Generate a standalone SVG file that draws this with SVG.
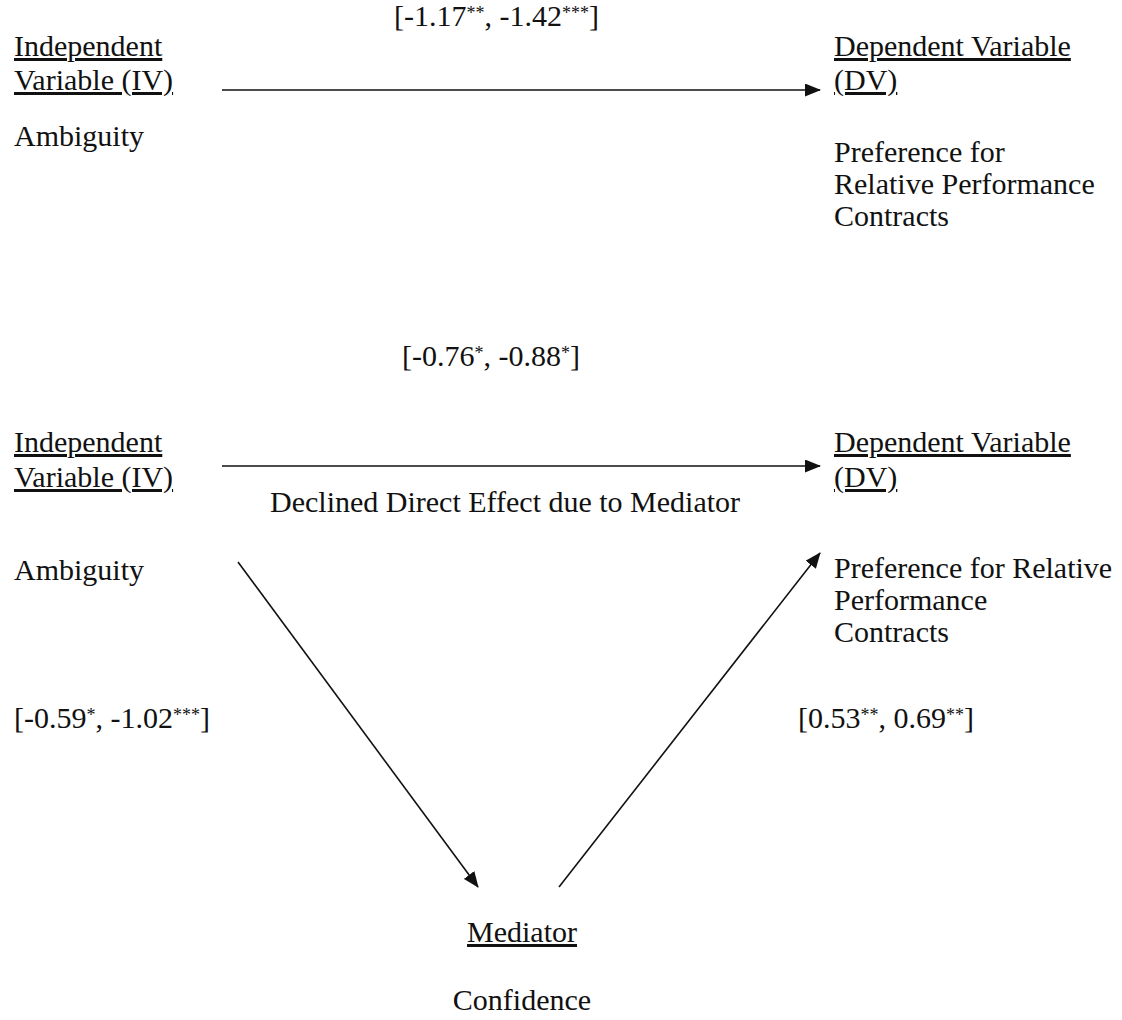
<svg xmlns="http://www.w3.org/2000/svg" width="1122" height="1020" viewBox="0 0 1122 1020">
<style>
text{font-family:"Liberation Serif","Times New Roman",serif;font-size:30px;fill:#111}
.u{text-decoration:underline}
.sup{font-size:18px}
.edge{stroke:#111;stroke-width:1.6;fill:none}
</style>
<defs>
<marker id="ah" viewBox="0 0 16 13" refX="15" refY="6.5" markerWidth="16" markerHeight="13" markerUnits="userSpaceOnUse" orient="auto">
<path d="M0,0 L16,6.5 L0,13 z" fill="#111"/>
</marker>
</defs>
<rect width="1122" height="1020" fill="#fff"/>
<g id="connectors">
<line class="edge" x1="222" y1="90" x2="820" y2="90" marker-end="url(#ah)"/>
<line class="edge" x1="222" y1="466" x2="820" y2="466" marker-end="url(#ah)"/>
<line class="edge" x1="238" y1="562" x2="478" y2="887" marker-end="url(#ah)"/>
<line class="edge" x1="559" y1="887" x2="820" y2="553" marker-end="url(#ah)"/>
</g>
<g id="top-label">
<text x="394" y="26">[-1.17<tspan class="sup" dy="-7">**</tspan><tspan dy="7">, -1.42</tspan><tspan class="sup" dy="-7">***</tspan><tspan dy="7">]</tspan></text>
</g>
<g id="top-iv">
<text x="14" y="56" class="u">Independent</text>
<text x="14" y="90" class="u">Variable (IV)</text>
<text x="14" y="146">Ambiguity</text>
</g>
<g id="top-dv">
<text x="834" y="56" class="u">Dependent Variable</text>
<text x="834" y="90" class="u">(DV)</text>
<text x="834" y="162">Preference for</text>
<text x="834" y="194">Relative Performance</text>
<text x="834" y="226">Contracts</text>
</g>
<g id="direct-label">
<text x="402" y="366">[-0.76<tspan class="sup" dy="-7">*</tspan><tspan dy="7">, -0.88</tspan><tspan class="sup" dy="-7">*</tspan><tspan dy="7">]</tspan></text>
<text x="270" y="512">Declined Direct Effect due to Mediator</text>
</g>
<g id="bottom-iv">
<text x="14" y="452" class="u">Independent</text>
<text x="14" y="487" class="u">Variable (IV)</text>
<text x="14" y="580">Ambiguity</text>
</g>
<g id="bottom-dv">
<text x="834" y="452" class="u">Dependent Variable</text>
<text x="834" y="487" class="u">(DV)</text>
<text x="834" y="578">Preference for Relative</text>
<text x="834" y="610">Performance</text>
<text x="834" y="642">Contracts</text>
</g>
<g id="a-label">
<text x="14" y="728">[-0.59<tspan class="sup" dy="-7">*</tspan><tspan dy="7">, -1.02</tspan><tspan class="sup" dy="-7">***</tspan><tspan dy="7">]</tspan></text>
</g>
<g id="b-label">
<text x="798" y="728">[0.53<tspan class="sup" dy="-7">**</tspan><tspan dy="7">, 0.69</tspan><tspan class="sup" dy="-7">**</tspan><tspan dy="7">]</tspan></text>
</g>
<g id="mediator">
<text x="522" y="942" text-anchor="middle" class="u">Mediator</text>
<text x="522" y="1010" text-anchor="middle">Confidence</text>
</g>
</svg>
